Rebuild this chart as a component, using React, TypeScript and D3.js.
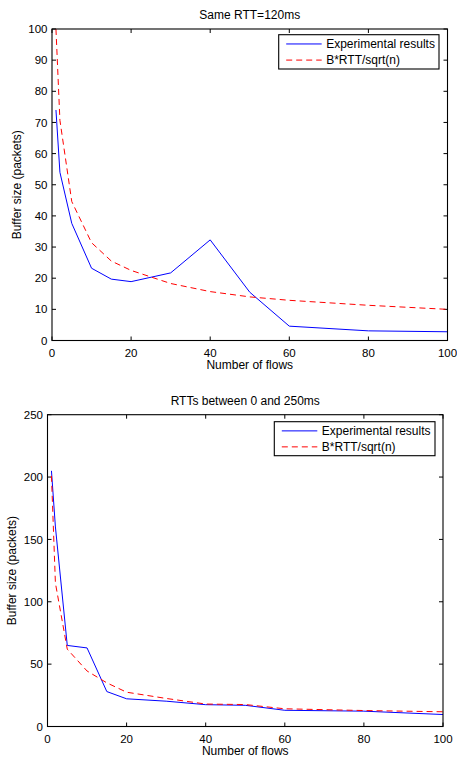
import React from "react";
import * as d3 from "d3";

const flowsTop = [1, 2, 5, 10, 15, 20, 30, 40, 50, 60, 80, 100];
const experimentalTop = [74, 54, 37.6, 23.2, 19.7, 18.9, 21.7, 32.3, 15.5, 4.6, 3.1, 2.8];
const modelTop = [100, 70.7, 44.6, 31.4, 25.5, 22.5, 18.3, 15.7, 14.0, 12.9, 11.3, 10.0];

const flowsBottom = [1, 2, 5, 10, 15, 20, 30, 40, 50, 60, 80, 100];
const experimentalBottom = [205, 160, 65, 63, 28, 22.2, 20.3, 17.5, 17, 13, 12.3, 9.6];
const modelBottom = [201, 115, 62, 44.5, 35, 27.5, 22.5, 18, 17.6, 14.2, 12.8, 11.8];

const xTicks = [0, 20, 40, 60, 80, 100];
const yTicksTop = [0, 10, 20, 30, 40, 50, 60, 70, 80, 90, 100];
const yTicksBottom = [0, 50, 100, 150, 200, 250];

const titles = ["Same RTT=120ms", "RTTs between 0 and 250ms"];
const legendLabels = ["Experimental results", "B*RTT/sqrt(n)"];
const xLabel = "Number of flows";
const yLabel = "Buffer size (packets)";

const FONT = "'Liberation Sans', Arial, Helvetica, sans-serif";

type PanelProps = {
  id: string;
  left: number;
  right: number;
  top: number;
  bottom: number;
  yMax: number;
  yTicks: number[];
  flows: number[];
  exp: number[];
  model: number[];
  title: string;
  legend: { x1: number; x2: number; y1: number; y2: number };
};

function Panel(p: PanelProps) {
  const x = d3.scaleLinear().domain([0, 100]).range([p.left, p.right]);
  const y = d3.scaleLinear().domain([0, p.yMax]).range([p.bottom, p.top]);
  const line = d3
    .line<[number, number]>()
    .x((d) => x(d[0]))
    .y((d) => y(d[1]));
  const expPts = p.flows.map((f, i) => [f, p.exp[i]] as [number, number]);
  const modPts = p.flows.map((f, i) => [f, p.model[i]] as [number, number]);
  const tl = 4;
  const lg = p.legend;
  const row1 = lg.y1 + (lg.y2 - lg.y1) * 0.27;
  const row2 = lg.y1 + (lg.y2 - lg.y1) * 0.74;
  const sx1 = lg.x1 + 7.5;
  const sx2 = lg.x1 + 43;
  const tx = lg.x1 + 47.5;
  return (
    <g>
      <defs>
        <clipPath id={p.id}>
          <rect x={p.left} y={p.top} width={p.right - p.left} height={p.bottom - p.top} />
        </clipPath>
      </defs>
      <rect x={p.left} y={p.top} width={p.right - p.left} height={p.bottom - p.top} fill="#fff" />
      <text x={(p.left + p.right) / 2} y={p.top - 10} textAnchor="middle" fontSize={12} fontFamily={FONT} fill="#000">
        {p.title}
      </text>
      {/* ticks */}
      {xTicks.map((t) => (
        <g key={"x" + t}>
          <line x1={x(t)} x2={x(t)} y1={p.bottom} y2={p.bottom - tl} stroke="#000" strokeWidth={1} />
          <line x1={x(t)} x2={x(t)} y1={p.top} y2={p.top + tl} stroke="#000" strokeWidth={1} />
          <text x={x(t)} y={p.bottom + 16.3} textAnchor="middle" fontSize={11.5} fontFamily={FONT} fill="#000">
            {t}
          </text>
        </g>
      ))}
      {p.yTicks.map((t) => (
        <g key={"y" + t}>
          <line x1={p.left} x2={p.left + tl} y1={y(t)} y2={y(t)} stroke="#000" strokeWidth={1} />
          <line x1={p.right} x2={p.right - tl} y1={y(t)} y2={y(t)} stroke="#000" strokeWidth={1} />
          <text x={p.left - 4.5} y={y(t) + 4.1} textAnchor="end" fontSize={11.5} fontFamily={FONT} fill="#000">
            {t}
          </text>
        </g>
      ))}
      <g clipPath={`url(#${p.id})`}>
        <path d={line(expPts) || ""} fill="none" stroke="#0000ff" strokeWidth={1} />
        <path d={line(modPts) || ""} fill="none" stroke="#ff0000" strokeWidth={1} strokeDasharray="6,4" />
      </g>
      <rect x={p.left} y={p.top} width={p.right - p.left} height={p.bottom - p.top} fill="none" stroke="#000" strokeWidth={1.1} />
      <text x={(p.left + p.right) / 2} y={p.bottom + 28.5} textAnchor="middle" fontSize={12} fontFamily={FONT} fill="#000">
        {xLabel}
      </text>
      <text
        transform={`translate(${p.left - 31.3},${(p.top + p.bottom) / 2}) rotate(-90)`}
        textAnchor="middle"
        fontSize={12}
        fontFamily={FONT}
        fill="#000"
      >
        {yLabel}
      </text>
      {/* legend */}
      <rect x={lg.x1} y={lg.y1} width={lg.x2 - lg.x1} height={lg.y2 - lg.y1} fill="#fff" stroke="#000" strokeWidth={1.1} />
      <line x1={sx1} x2={sx2} y1={row1} y2={row1} stroke="#0000ff" strokeWidth={1} />
      <line x1={sx1} x2={sx2} y1={row2} y2={row2} stroke="#ff0000" strokeWidth={1} strokeDasharray="6,4" />
      <text x={tx} y={row1 + 4.2} fontSize={12} fontFamily={FONT} fill="#000">
        {legendLabels[0]}
      </text>
      <text x={tx} y={row2 + 4.2} fontSize={12} fontFamily={FONT} fill="#000">
        {legendLabels[1]}
      </text>
    </g>
  );
}

export default function App() {
  return (
    <svg
      width={457}
      height={760}
      style={{ position: "absolute", left: 0, top: 0, background: "#fff" }}
    >
      <rect x={0} y={0} width={457} height={760} fill="#fff" />
      <Panel
        id="clipTop"
        left={52}
        right={447.5}
        top={29}
        bottom={340.5}
        yMax={100}
        yTicks={yTicksTop}
        flows={flowsTop}
        exp={experimentalTop}
        model={modelTop}
        title={titles[0]}
        legend={{ x1: 278.7, x2: 439, y1: 34.7, y2: 69 }}
      />
      <Panel
        id="clipBottom"
        left={47.5}
        right={443}
        top={414.7}
        bottom={726.5}
        yMax={250}
        yTicks={yTicksBottom}
        flows={flowsBottom}
        exp={experimentalBottom}
        model={modelBottom}
        title={titles[1]}
        legend={{ x1: 274.3, x2: 435, y1: 421.7, y2: 455.7 }}
      />
    </svg>
  );
}
